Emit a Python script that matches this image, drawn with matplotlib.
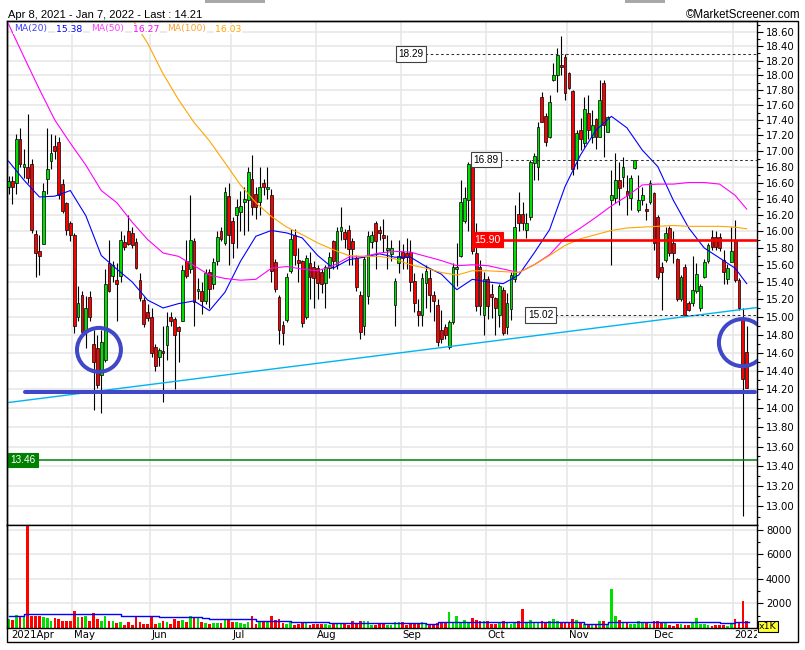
import numpy as np
import pandas as pd
import matplotlib
matplotlib.use("Agg")
import matplotlib.pyplot as plt
from matplotlib.patches import Rectangle
from matplotlib.ticker import FixedLocator, NullFormatter, FuncFormatter
from matplotlib.transforms import Bbox, TransformedBbox, blended_transform_factory

# trading days (Stockholm calendar, exchange closed on these weekdays)
closed = ['2021-05-13', '2021-06-25', '2021-12-24', '2021-12-31', '2022-01-06']
days = pd.bdate_range('2021-04-08', '2022-01-07')
days = days[~days.isin(pd.to_datetime(closed))]

opens = [16.55, 16.62, 16.60, 17.15, 16.79, 16.80, 16.84, 15.97, 15.76, 15.85,
         16.64, 16.87, 17.07, 17.12, 16.58, 16.34, 16.10, 15.96, 15.00, 15.25,
         14.85, 15.22, 14.70, 14.65, 14.35, 14.52, 15.62, 15.47, 15.42, 15.47,
         15.87, 16.00, 15.98, 15.87, 15.42, 15.19, 15.05, 15.00, 14.66, 14.55,
         14.62, 14.68, 15.00, 14.98, 14.88, 14.95, 15.65, 15.55, 15.88, 15.30,
         15.30, 15.18, 15.52, 15.38, 15.65, 16.00, 15.86, 16.43, 16.13, 16.20,
         16.24, 16.36, 16.38, 16.64, 16.46, 16.36, 16.60, 16.52, 16.45, 15.63,
         15.22, 14.91, 14.96, 15.53, 15.95, 15.66, 15.64, 15.00, 15.62, 15.57,
         15.56, 15.52, 15.39, 15.56, 15.88, 15.60, 16.00, 15.99, 16.02, 15.88,
         15.68, 15.25, 14.90, 15.24, 15.87, 16.10, 16.02, 15.95, 15.77, 15.73,
         15.13, 15.62, 15.75, 15.74, 15.75, 15.41, 15.06, 15.02, 15.39, 15.44,
         15.25, 15.13, 14.85, 14.89, 14.66, 14.94, 15.55, 15.70, 16.12, 16.38,
         16.84, 15.74, 15.58, 15.02, 15.43, 15.26, 15.21, 15.02, 15.31, 14.88,
         15.09, 15.43, 16.21, 16.21, 16.02, 16.17, 16.85, 16.80, 17.71, 17.46,
         17.18, 17.93, 18.00, 18.14, 18.25, 18.03, 17.79, 16.89, 17.27, 17.10,
         17.50, 17.18, 17.41, 17.18, 17.90, 17.25, 16.38, 16.41, 16.63, 16.67,
         16.50, 16.41, 16.78, 16.26, 16.38, 16.27, 16.36, 16.47, 16.17, 15.58,
         15.66, 16.04, 15.86, 15.67, 15.20, 15.58, 15.16, 15.16, 15.29, 15.10,
         15.46, 15.64, 15.93, 15.93, 15.93, 15.66, 15.43, 15.63, 15.90, 15.42,
         14.97, 14.61]
highs = [16.68, 16.68, 17.22, 17.30, 17.02, 17.48, 16.90, 16.02, 15.95, 16.60,
         17.30, 17.22, 17.20, 17.18, 16.65, 16.36, 16.12, 15.98, 15.35, 15.30,
         15.24, 15.30, 14.85, 14.80, 14.85, 15.55, 15.90, 15.65, 15.62, 16.00,
         15.95, 16.20, 16.05, 15.92, 15.50, 15.22, 15.15, 15.10, 14.70, 14.65,
         14.90, 15.05, 15.05, 15.00, 14.90, 15.60, 15.90, 16.45, 15.92, 15.45,
         15.40, 15.55, 15.55, 15.68, 16.00, 16.05, 16.55, 16.60, 16.17, 16.40,
         16.50, 16.55, 16.80, 16.95, 16.55, 16.80, 16.65, 16.80, 16.52, 15.67,
         15.25, 14.95, 15.50, 16.03, 16.03, 15.80, 15.66, 15.72, 15.75, 15.65,
         15.60, 15.55, 15.60, 15.75, 15.90, 16.05, 16.30, 16.03, 16.08, 15.92,
         15.72, 15.30, 15.70, 16.00, 16.00, 16.12, 16.07, 16.15, 15.95, 15.90,
         15.45, 15.90, 15.85, 15.92, 15.90, 15.50, 15.20, 15.50, 15.60, 15.55,
         15.30, 15.20, 15.08, 14.92, 14.96, 15.62, 15.86, 16.63, 16.54, 16.86,
         16.91, 16.10, 15.66, 15.51, 15.47, 15.37, 15.22, 15.37, 15.34, 15.27,
         15.51, 16.32, 16.48, 16.36, 16.22, 16.88, 16.97, 17.37, 17.78, 17.50,
         17.74, 18.17, 18.37, 18.54, 18.29, 18.05, 17.80, 17.27, 17.43, 17.71,
         17.74, 17.54, 17.43, 17.93, 17.93, 17.46, 16.76, 16.98, 16.86, 16.92,
         16.69, 16.69, 16.89, 16.69, 16.55, 16.35, 16.63, 16.48, 16.20, 15.63,
         16.05, 16.06, 16.00, 15.68, 15.48, 15.61, 15.18, 15.70, 15.62, 15.38,
         15.67, 15.86, 16.01, 16.00, 15.98, 15.78, 15.61, 16.05, 16.14, 15.45,
         15.10, 14.90]
lows = [16.46, 16.33, 16.46, 16.79, 16.66, 16.60, 15.98, 15.46, 15.48, 15.85,
        16.46, 16.77, 16.90, 16.40, 16.22, 15.95, 15.88, 14.82, 14.95, 14.78,
        14.65, 14.95, 13.98, 14.22, 13.95, 14.50, 15.28, 15.40, 14.95, 15.40,
        15.78, 15.83, 15.80, 15.55, 15.18, 14.88, 14.95, 14.55, 14.40, 14.45,
        14.07, 14.52, 14.90, 14.20, 14.50, 14.95, 15.45, 15.50, 14.90, 15.20,
        15.03, 15.15, 15.10, 15.32, 15.60, 15.88, 15.84, 15.60, 15.68, 15.80,
        16.00, 15.95, 16.00, 16.20, 16.15, 16.20, 16.45, 16.40, 15.40, 15.28,
        14.70, 14.68, 14.94, 15.50, 15.60, 15.40, 14.88, 14.98, 15.20, 15.10,
        15.20, 15.27, 15.10, 15.45, 15.55, 15.55, 15.90, 15.80, 15.60, 15.60,
        15.30, 14.75, 14.80, 15.15, 15.80, 15.55, 15.90, 15.75, 15.55, 15.65,
        14.90, 15.50, 15.55, 15.55, 15.30, 15.05, 14.90, 14.90, 15.10, 15.05,
        14.95, 14.67, 14.71, 14.75, 14.64, 14.92, 15.35, 15.69, 16.10, 16.00,
        15.73, 15.06, 15.02, 14.79, 14.98, 14.99, 14.79, 14.88, 14.79, 14.81,
        14.96, 15.40, 16.00, 16.02, 15.92, 16.14, 16.63, 16.63, 17.37, 17.06,
        17.17, 17.92, 17.78, 18.00, 17.67, 17.81, 16.70, 16.77, 17.01, 17.05,
        17.15, 17.10, 17.03, 17.18, 16.92, 17.24, 15.60, 16.35, 16.32, 16.54,
        16.20, 16.26, 16.77, 16.24, 16.32, 16.14, 16.33, 15.78, 15.43, 15.08,
        15.63, 15.70, 15.62, 15.18, 15.18, 15.01, 15.06, 15.12, 15.27, 15.06,
        15.45, 15.62, 15.77, 15.77, 15.76, 15.37, 15.37, 15.63, 15.40, 15.08,
        12.91, 14.21]
closes = [16.62, 16.55, 17.15, 16.83, 16.84, 16.66, 16.02, 15.74, 15.71, 16.50,
          16.77, 16.98, 17.00, 16.45, 16.25, 16.01, 15.95, 14.90, 15.16, 14.83,
          15.10, 15.00, 14.50, 14.25, 14.72, 15.37, 15.30, 15.60, 15.38, 15.90,
          15.81, 15.85, 15.83, 15.56, 15.21, 14.92, 14.99, 14.60, 14.45, 14.63,
          14.60, 14.90, 14.95, 14.80, 14.84, 15.54, 15.47, 15.89, 15.17, 15.32,
          15.18, 15.50, 15.32, 15.63, 15.93, 15.91, 16.48, 15.95, 15.86, 16.30,
          16.31, 16.40, 16.73, 16.29, 16.30, 16.55, 16.54, 16.55, 15.53, 15.32,
          14.85, 14.82, 15.46, 15.91, 15.72, 15.62, 14.93, 15.68, 15.46, 15.44,
          15.39, 15.38, 15.57, 15.69, 15.65, 16.00, 16.05, 15.91, 15.79, 15.79,
          15.34, 14.83, 15.67, 15.94, 15.95, 15.88, 15.98, 15.92, 15.80, 15.80,
          15.41, 15.70, 15.68, 15.69, 15.40, 15.16, 15.02, 15.44, 15.53, 15.25,
          15.18, 14.72, 14.75, 14.79, 14.94, 15.57, 15.58, 16.36, 16.41, 16.84,
          15.76, 15.12, 15.12, 15.43, 15.12, 15.23, 15.10, 15.35, 14.82, 15.16,
          15.48, 16.05, 16.10, 16.10, 16.10, 16.86, 16.93, 17.31, 17.38, 17.12,
          17.64, 18.00, 18.28, 18.11, 17.76, 17.83, 16.77, 17.23, 17.16, 17.55,
          17.27, 17.34, 17.18, 17.67, 17.34, 17.44, 16.44, 16.63, 16.53, 16.80,
          16.45, 16.66, 16.89, 16.38, 16.45, 16.25, 16.60, 15.86, 15.46, 15.51,
          15.98, 15.74, 15.74, 15.20, 15.46, 15.02, 15.08, 15.31, 15.49, 15.35,
          15.63, 15.84, 15.81, 15.81, 15.80, 15.52, 15.56, 15.76, 15.42, 15.10,
          14.31, 14.21]
# volume in thousands of shares
volume = [765, 683, 1092, 956, 1010, 9000, 1010, 1010, 1010, 928,
          819, 600, 819, 737, 600, 546, 546, 1420, 874, 874,
          1010, 546, 1256, 765, 600, 1010, 546, 600, 410, 464,
          273, 464, 273, 956, 464, 355, 355, 956, 328, 410,
          600, 464, 355, 765, 600, 683, 492, 1010, 874, 819,
          492, 410, 328, 410, 410, 410, 683, 683, 492, 492,
          410, 355, 492, 1010, 355, 492, 492, 546, 1010, 683,
          765, 410, 355, 492, 273, 355, 492, 492, 273, 328,
          355, 355, 355, 273, 355, 410, 410, 355, 273, 546,
          355, 600, 546, 546, 273, 273, 410, 355, 273, 273,
          492, 492, 492, 273, 410, 410, 410, 492, 410, 328,
          328, 410, 410, 464, 1283, 492, 1010, 492, 683, 410,
          819, 683, 600, 600, 546, 355, 355, 492, 600, 410,
          355, 492, 546, 1584, 410, 683, 492, 492, 600, 410,
          600, 765, 600, 492, 410, 410, 765, 683, 410, 328,
          355, 273, 273, 600, 600, 355, 3140, 956, 683, 410,
          492, 355, 355, 600, 410, 464, 355, 600, 600, 492,
          464, 273, 191, 355, 355, 273, 273, 492, 819, 355,
          355, 273, 191, 273, 273, 273, 191, 355, 737, 492,
          2240, 600]

# moving averages
ma_days = list(range(0, 189, 4)) + [191]
ma20 = [16.87, 16.63, 16.42, 16.43, 16.50, 16.19, 15.71, 15.55, 15.40, 15.19,
        15.10, 15.15, 15.18, 15.07, 15.28, 15.64, 15.94, 16.01, 15.98, 15.92,
        15.71, 15.56, 15.66, 15.69, 15.73, 15.69, 15.69, 15.58, 15.49, 15.31,
        15.43, 15.40, 15.38, 15.48, 15.74, 16.02, 16.55, 16.95, 17.27, 17.45,
        17.30, 17.01, 16.80, 16.38, 16.04, 15.80, 15.68, 15.56, 15.38]
ma50 = [18.71, 18.25, 17.81, 17.40, 17.10, 16.82, 16.50, 16.35, 16.11, 15.90,
        15.74, 15.70, 15.59, 15.48, 15.44, 15.42, 15.43, 15.56, 15.58, 15.55,
        15.53, 15.59, 15.69, 15.70, 15.74, 15.76, 15.75, 15.70, 15.65, 15.59,
        15.60, 15.59, 15.55, 15.51, 15.60, 15.72, 15.92, 16.04, 16.17, 16.31,
        16.43, 16.57, 16.58, 16.58, 16.60, 16.60, 16.58, 16.44, 16.27]
ma100_days = list(range(28, 189, 4)) + [191]
ma100 = [19.00, 18.78, 18.44, 18.02, 17.67, 17.37, 17.13, 16.85, 16.57, 16.35,
         16.18, 16.05, 15.96, 15.86, 15.78, 15.71, 15.70, 15.70, 15.67, 15.60,
         15.56, 15.51, 15.48, 15.53, 15.53, 15.52, 15.51, 15.60, 15.71, 15.83,
         15.91, 15.96, 16.01, 16.04, 16.05, 16.06, 16.07, 16.06, 16.06, 16.06,
         16.05, 16.03]
vol_avg_edges = [0, 4, 29, 39, 50, 52, 64, 73, 83, 108, 111, 149, 155, 184, 188, 191.5]
vol_avg = [1010, 1147, 1010, 901, 819, 737, 546, 492, 410, 328, 464, 355, 492, 410, 492]

# drawn annotations
levels = [18.29, 16.89, 15.90, 15.02, 13.46]
level_from = [107.8, 127.2, 119.9, 141.4, -0.39]
level_kind = ['dash', 'dash', 'red', 'dash', 'green']
support = 14.17
support_span = [4.3, 193.2]
trend_days = [0, 191]
trend_prices = [14.06, 15.09]
circle_days = [23.4, 189.9]
circle_prices = [14.63, 14.71]
month_labels = ['2021Apr', 'May', 'Jun', 'Jul', 'Aug', 'Sep', 'Oct', 'Nov', 'Dec', '2022Jan']

W, H = 805, 650
def fx(x):
    return x / W
def fy(y):
    return 1 - y / H

GREEN = '#00e000'
RED = '#ff0000'
GRID = '#e6e6e6'
BLUE_MARK = '#4048c8'

fig = plt.figure(figsize=(W / 100, H / 100), dpi=100)
ax = fig.add_axes([fx(7), fy(525), fx(757) - fx(7), fy(20.7) - fy(525)])
axv = fig.add_axes([fx(7), fy(628), fx(757) - fx(7), fy(525) - fy(628)], sharex=ax)

idx = np.arange(len(closes))
o = np.array(opens)
c = np.array(closes)
up = c >= o
lo = np.minimum(o, c)
hi = np.maximum(o, c)
cols = np.where(up, GREEN, RED)

# price panel
ax.set_yscale('log')
ax.vlines(idx, lows, highs, color='black', lw=0.8, zorder=2)
ax.bar(idx, np.maximum(hi - lo, 0.012), bottom=lo, width=0.72, color=cols,
       edgecolor='black', linewidth=0.5, zorder=3)

ax.plot(ma_days, ma20, color='#0000ff', lw=0.8, zorder=4)
ax.plot(ma_days, ma50, color='#ff00ff', lw=0.8, zorder=4)
ax.plot(ma100_days, ma100, color='#ffa500', lw=0.8, zorder=4)

ax.axline((trend_days[0], trend_prices[0]), (trend_days[1], trend_prices[1]),
          color='#00b4f0', lw=1.0, zorder=5)
ax.hlines(support, support_span[0], support_span[1], color=BLUE_MARK, lw=2.9,
          capstyle='round', zorder=6)
ax.scatter(circle_days, circle_prices, s=[1000, 1150], facecolors='none',
           edgecolors=BLUE_MARK, linewidths=2.9, zorder=7)

xmax = 193.66
for lv, x0, kind in zip(levels, level_from, level_kind):
    if kind == 'dash':
        ax.hlines(lv, x0, xmax, color='#303030', lw=0.75, linestyles=(0, (2.5, 2.5)), zorder=5)
        ax.text(x0 - 0.4, lv, f'{lv:.2f}', ha='right', va='center', fontsize=7.2,
                family='Liberation Sans', zorder=8,
                bbox=dict(boxstyle='square,pad=0.28', fc='white', ec='#404040', lw=0.8))
    elif kind == 'red':
        ax.hlines(lv, x0, xmax, color=RED, lw=1.9, zorder=5)
        ax.text(x0 + 0.6, lv, f'{lv:.2f}', ha='left', va='center', fontsize=7.6,
                family='Liberation Sans', color='white', zorder=8,
                bbox=dict(boxstyle='square,pad=0.25', fc=RED, ec=RED, lw=0.8))
    else:
        ax.hlines(lv, x0, xmax, color='#008000', lw=1.1, zorder=5)
        ax.text(x0 + 0.8, lv, f'{lv:.2f}', ha='left', va='center', fontsize=7.2,
                family='Liberation Sans', color='white', zorder=8,
                bbox=dict(boxstyle='square,pad=0.22', fc='#008000', ec='#008000', lw=0.8))

ax.set_xlim(-0.39, xmax)
ax.set_ylim(12.818, 18.757)
major = np.round(np.arange(130, 187, 2) / 10, 2)
minor = np.round(np.arange(129, 188, 2) / 10, 2)
ax.yaxis.set_major_locator(FixedLocator(major))
ax.yaxis.set_minor_locator(FixedLocator(minor))
ax.yaxis.set_major_formatter(FuncFormatter(lambda v, p: f'{v:.2f}'))
ax.yaxis.set_minor_formatter(NullFormatter())
ax.yaxis.tick_right()
ax.tick_params(axis='y', which='major', direction='out', length=4.5, width=0.8,
               labelsize=7.3, pad=2)
ax.tick_params(axis='y', which='minor', direction='out', length=2.5, width=0.8)

month_pos = [0] + [i for i in range(1, len(days)) if days[i].month != days[i - 1].month]
ax.set_xticks(np.array(month_pos[1:]) - 0.5)
ax.tick_params(axis='x', length=0, labelbottom=False)
ax.grid(True, which='major', color=GRID, lw=1.1)
ax.set_axisbelow(True)
for s in ax.spines.values():
    s.set_linewidth(1.0)

# volume panel
axv.bar(idx, volume, width=0.7, color=cols, linewidth=0, zorder=2)
axv.step(vol_avg_edges, vol_avg + [vol_avg[-1]], where='post', color='#0000ff', lw=1.0, zorder=3)
axv.set_ylim(0, 8400)
axv.yaxis.set_major_locator(FixedLocator([2000, 4000, 6000, 8000]))
axv.yaxis.set_minor_locator(FixedLocator([1000, 3000, 5000, 7000]))
axv.yaxis.set_major_formatter(FuncFormatter(lambda v, p: f'{v:.0f}'))
axv.yaxis.tick_right()
axv.tick_params(axis='y', which='major', direction='out', length=4.5, width=0.8,
                labelsize=7.3, pad=2)
axv.tick_params(axis='y', which='minor', direction='out', length=2.5, width=0.8)
axv.tick_params(axis='x', length=0, labelbottom=False)
axv.grid(True, which='major', color=GRID, lw=1.1)
axv.set_axisbelow(True)
for s in axv.spines.values():
    s.set_linewidth(1.0)

# month labels below the volume panel, clipped at the right axis
trans = blended_transform_factory(axv.transData, fig.transFigure)
clip = TransformedBbox(Bbox.from_extents(0, 0, fx(757), 1), fig.transFigure)
for k, (p, lab) in enumerate(zip(month_pos, month_labels)):
    xp = 0.65 if k == 0 else p - 0.1
    t = fig.text(xp, fy(638.5), lab, transform=trans, fontsize=7.3, ha='left', va='baseline')
    t.set_clip_box(clip)
    t.set_clip_on(True)

# x1K badge
fig.text(fx(759), fy(626.5), 'x1K', fontsize=6.8, ha='left', va='center',
         bbox=dict(boxstyle='square,pad=0.15', fc='#ffff33', ec='black', lw=0.8))

# outer frame and header
fig.patches.append(Rectangle((fx(7), fy(642)), fx(797.5) - fx(7), fy(20.7) - fy(642),
                             transform=fig.transFigure, fill=False, ec='black', lw=1.0))
for x0, x1 in [(205, 265), (625, 665)]:
    fig.patches.append(Rectangle((fx(x0), fy(3)), fx(x1) - fx(x0), 3 / H,
                                 transform=fig.transFigure, color='#a8a8a8', lw=0))
fig.text(fx(8), fy(18.3), 'Apr 8, 2021 - Jan 7, 2022 - Last : 14.21', fontsize=8.0,
         family='Liberation Sans', ha='left', va='baseline')
fig.text(fx(800), fy(18.3), '\u00a9MarketScreener.com', fontsize=8.3,
         family='Liberation Sans', ha='right', va='baseline')

# moving-average legend
legend_items = [('MA(20)', 14, '#4040ff'), ('15.38', 56, '#0000ff'),
                ('MA(50)', 91, '#ff40ff'), ('16.27', 133, '#ff00ff'),
                ('MA(100)', 167.5, '#ffa030'), ('16.03', 215, '#ffa500')]
for txt, xp, col in legend_items:
    fig.text(fx(xp), fy(31.5), txt, fontsize=6.7, color=col, ha='left', va='baseline',
             bbox=dict(boxstyle='square,pad=0.1', fc='white', ec='none'))

fig.savefig('out.png', dpi=100)
